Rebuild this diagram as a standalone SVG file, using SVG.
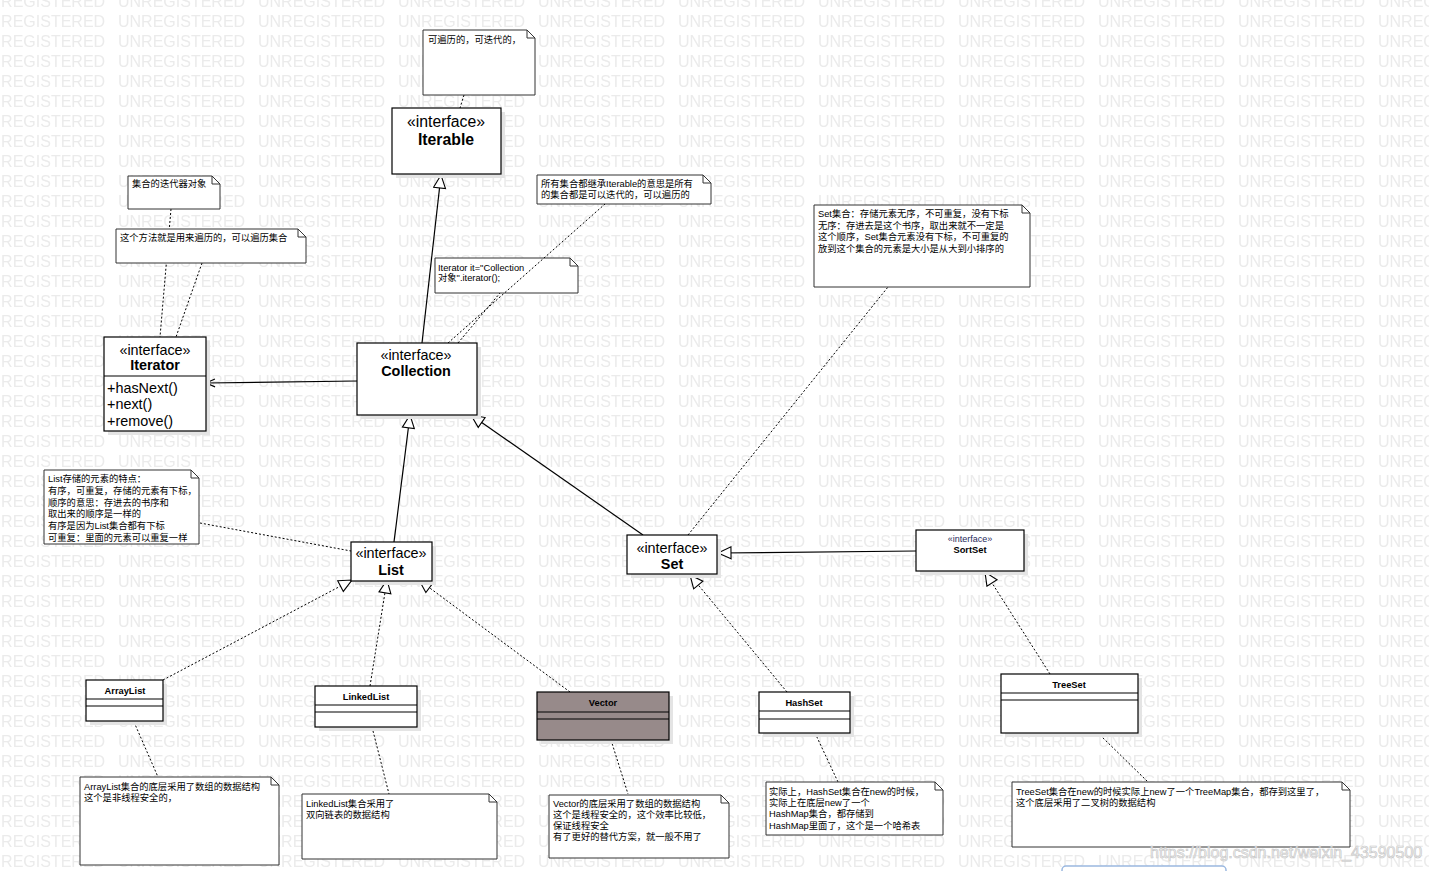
<svg xmlns="http://www.w3.org/2000/svg" width="1429" height="871" viewBox="0 0 1429 871">
<style>
.wm{font-family:"Liberation Sans",Arial,sans-serif;font-size:16px;fill:#ebebeb}
.box{fill:#fff;stroke:#000;stroke-width:1.2}
.shadow{fill:#e4e4e4}
.note{fill:#fff;stroke:#333;stroke-width:1}
.fold{fill:none;stroke:#333;stroke-width:1}
.nt{font-family:"Liberation Sans","Noto Sans CJK SC",sans-serif;font-size:9.3px;fill:#000}
.st{font-family:"Liberation Sans",Arial,sans-serif;font-size:14.4px;fill:#000;text-anchor:middle}
.nm{font-family:"Liberation Sans",Arial,sans-serif;font-size:14.4px;font-weight:bold;fill:#000;text-anchor:middle}
.mt{font-family:"Liberation Sans",Arial,sans-serif;font-size:14.4px;fill:#000}
.sn{font-family:"Liberation Sans",Arial,sans-serif;font-size:9.3px;font-weight:bold;fill:#000;text-anchor:middle}
.div{stroke:#000;stroke-width:1.2}
.solid{fill:none;stroke:#000;stroke-width:1.2}
.dash{fill:none;stroke:#000;stroke-width:1;stroke-dasharray:2,2}
</style>
<defs>
<pattern id="wmp" patternUnits="userSpaceOnUse" x="-22" y="-13" width="140" height="20">
<text class="wm" x="0" y="20">UNREGISTERED</text>
</pattern>
<marker id="tri" markerUnits="userSpaceOnUse" markerWidth="16" markerHeight="16" refX="14" refY="7" orient="auto">
<path d="M1,1 L14,7 L1,13 Z" fill="#fff" stroke="#000" stroke-width="1.1"/>
</marker>
<marker id="open" markerUnits="userSpaceOnUse" markerWidth="12" markerHeight="12" refX="10" refY="5" orient="auto">
<path d="M1,1 L10,5 L1,9" fill="none" stroke="#000" stroke-width="1.1"/>
</marker>
</defs>
<rect x="0" y="0" width="1429" height="871" fill="#fff"/>
<rect x="0" y="0" width="1429" height="871" fill="url(#wmp)"/>

<g id="connectors">
<line class="solid" x1="422" y1="343" x2="441" y2="175" marker-end="url(#tri)"/>
<line class="solid" x1="357" y1="381" x2="206" y2="383" marker-end="url(#open)"/>
<line class="solid" x1="394" y1="542" x2="410" y2="415" marker-end="url(#tri)"/>
<line class="solid" x1="643" y1="535" x2="471" y2="415" marker-end="url(#tri)"/>
<line class="solid" x1="916" y1="551" x2="718" y2="553" marker-end="url(#tri)"/>
<line class="dash" x1="1050" y1="674" x2="985" y2="572" marker-end="url(#tri)"/>
<line class="dash" x1="787" y1="692" x2="690" y2="575" marker-end="url(#tri)"/>
<line class="dash" x1="163" y1="680" x2="352" y2="580" marker-end="url(#tri)"/>
<line class="dash" x1="370" y1="686" x2="387" y2="580" marker-end="url(#tri)"/>
<line class="dash" x1="570" y1="692" x2="419" y2="580" marker-end="url(#tri)"/>
<line class="dash" x1="464" y1="95" x2="460" y2="108"/>
<line class="dash" x1="171" y1="209" x2="160" y2="337"/>
<line class="dash" x1="202" y1="263" x2="176" y2="337"/>
<line class="dash" x1="458" y1="343" x2="500" y2="293"/>
<line class="dash" x1="200" y1="523" x2="351" y2="551"/>
<line class="dash" x1="688" y1="535" x2="888" y2="287"/>
<line class="dash" x1="134" y1="722" x2="158" y2="777"/>
<line class="dash" x1="372" y1="727" x2="389" y2="794"/>
<line class="dash" x1="611" y1="740" x2="628" y2="794"/>
<line class="dash" x1="815" y1="733" x2="838" y2="782"/>
<line class="dash" x1="1100" y1="735" x2="1148" y2="782"/>
</g>

<g id="note-iterable">
<path class="note" d="M423,30 H527 L535,38 V95 H423 Z"/>
<path class="fold" d="M527,30 V38 H535"/>
<text class="nt" x="428" y="43">可遍历的，可迭代的，</text>
</g>

<g id="Iterable">
<rect class="shadow" x="396" y="112" width="109" height="66"/>
<rect class="box" x="392" y="108" width="109" height="66"/>
<text class="st" x="446" y="127" style="font-size:15.8px">«interface»</text>
<text class="nm" x="446" y="145" style="font-size:15.8px">Iterable</text>
</g>

<g id="note-all">
<path class="note" d="M537,175 H703 L711,183 V204 H537 Z"/>
<path class="fold" d="M703,175 V183 H711"/>
<text class="nt" x="541" y="187">所有集合都继承Iterable的意思是所有</text>
<text class="nt" x="541" y="198">的集合都是可以迭代的，可以遍历的</text>
</g>

<g id="note-iterobj">
<path class="note" d="M128,176 H212 L220,184 V209 H128 Z"/>
<path class="fold" d="M212,176 V184 H220"/>
<text class="nt" x="132" y="187">集合的迭代器对象</text>
</g>

<g id="note-method">
<path class="note" d="M116,229 H298 L306,237 V263 H116 Z"/>
<path class="fold" d="M298,229 V237 H306"/>
<text class="nt" x="120" y="241">这个方法就是用来遍历的，可以遍历集合</text>
</g>

<g id="note-iterator-it">
<path class="note" d="M435,258 H570 L578,266 V293 H435 Z"/>
<path class="fold" d="M570,258 V266 H578"/>
<text class="nt" x="438" y="271">Iterator it="Collection</text>
<text class="nt" x="438" y="281">对象".iterator();</text>
</g>
<line class="dash" x1="448" y1="343" x2="605" y2="204"/>

<g id="note-set">
<path class="note" d="M814,205 H1022 L1030,213 V287 H814 Z"/>
<path class="fold" d="M1022,205 V213 H1030"/>
<text class="nt" x="818" y="217">Set集合：存储元素无序，不可重复，没有下标</text>
<text class="nt" x="818" y="228.5">无序：存进去是这个书序，取出来就不一定是</text>
<text class="nt" x="818" y="240">这个顺序，Set集合元素没有下标，不可重复的</text>
<text class="nt" x="818" y="251.5">放到这个集合的元素是大小是从大到小排序的</text>
</g>

<g id="Iterator">
<rect class="shadow" x="108" y="341" width="102" height="94"/>
<rect class="box" x="104" y="337" width="102" height="94"/>
<line class="div" x1="104" y1="376" x2="206" y2="376"/>
<text class="st" x="155" y="355">«interface»</text>
<text class="nm" x="155" y="370">Iterator</text>
<text class="mt" x="107" y="393">+hasNext()</text>
<text class="mt" x="107" y="409">+next()</text>
<text class="mt" x="107" y="426">+remove()</text>
</g>

<g id="Collection">
<rect class="shadow" x="361" y="347" width="120" height="72"/>
<rect class="box" x="357" y="343" width="120" height="72"/>
<text class="st" x="416" y="360">«interface»</text>
<text class="nm" x="416" y="376">Collection</text>
</g>

<g id="note-list">
<path class="note" d="M44,470 H191 L199,478 V544 H44 Z"/>
<path class="fold" d="M191,470 V478 H199"/>
<text class="nt" x="48" y="482">List存储的元素的特点：</text>
<text class="nt" x="48" y="494">有序，可重复，存储的元素有下标，</text>
<text class="nt" x="48" y="505.5">顺序的意思：存进去的书序和</text>
<text class="nt" x="48" y="517">取出来的顺序是一样的</text>
<text class="nt" x="48" y="529">有序是因为List集合都有下标</text>
<text class="nt" x="48" y="540.5">可重复：里面的元素可以重复一样</text>
</g>

<g id="List">
<rect class="shadow" x="355" y="546" width="81" height="39"/>
<rect class="box" x="351" y="542" width="81" height="39"/>
<text class="st" x="391" y="558">«interface»</text>
<text class="nm" x="391" y="575">List</text>
</g>

<g id="Set">
<rect class="shadow" x="631" y="539" width="90" height="39"/>
<rect class="box" x="627" y="535" width="90" height="39"/>
<text class="st" x="672" y="553">«interface»</text>
<text class="nm" x="672" y="569">Set</text>
</g>

<g id="SortSet">
<rect class="shadow" x="920" y="534" width="108" height="41"/>
<rect class="box" x="916" y="530" width="108" height="41"/>
<text class="st" x="970" y="542" style="font-size:9px;fill:#1f2a5a">«interface»</text>
<text class="sn" x="970" y="553">SortSet</text>
</g>

<g id="ArrayList">
<rect class="shadow" x="90" y="684" width="77" height="41"/>
<rect class="box" x="86" y="680" width="77" height="41"/>
<line class="div" x1="86" y1="699" x2="163" y2="699"/>
<line class="div" x1="86" y1="706" x2="163" y2="706"/>
<text class="sn" x="125" y="694">ArrayList</text>
</g>

<g id="LinkedList">
<rect class="shadow" x="319" y="690" width="102" height="41"/>
<rect class="box" x="315" y="686" width="102" height="41"/>
<line class="div" x1="315" y1="705" x2="417" y2="705"/>
<line class="div" x1="315" y1="712" x2="417" y2="712"/>
<text class="sn" x="366" y="700">LinkedList</text>
</g>

<g id="Vector">
<rect class="shadow" x="541" y="696" width="132" height="48"/>
<rect class="box" x="537" y="692" width="132" height="48" style="fill:#978a8a"/>
<line class="div" x1="537" y1="712" x2="669" y2="712"/>
<line class="div" x1="537" y1="719" x2="669" y2="719"/>
<text class="sn" x="603" y="706">Vector</text>
</g>

<g id="HashSet">
<rect class="shadow" x="763" y="696" width="91" height="41"/>
<rect class="box" x="759" y="692" width="91" height="41"/>
<line class="div" x1="759" y1="711" x2="850" y2="711"/>
<line class="div" x1="759" y1="719" x2="850" y2="719"/>
<text class="sn" x="804" y="706">HashSet</text>
</g>

<g id="TreeSet">
<rect class="shadow" x="1005" y="678" width="137" height="59"/>
<rect class="box" x="1001" y="674" width="137" height="59"/>
<line class="div" x1="1001" y1="693" x2="1138" y2="693"/>
<line class="div" x1="1001" y1="700" x2="1138" y2="700"/>
<text class="sn" x="1069" y="688">TreeSet</text>
</g>

<g id="note-arraylist">
<path class="note" d="M80,777 H271 L279,785 V865 H80 Z"/>
<path class="fold" d="M271,777 V785 H279"/>
<text class="nt" x="84" y="790">ArrayList集合的底层采用了数组的数据结构</text>
<text class="nt" x="84" y="801">这个是非线程安全的，</text>
</g>

<g id="note-linkedlist">
<path class="note" d="M302,794 H489 L497,802 V859 H302 Z"/>
<path class="fold" d="M489,794 V802 H497"/>
<text class="nt" x="306" y="807">LinkedList集合采用了</text>
<text class="nt" x="306" y="818">双向链表的数据结构</text>
</g>

<g id="note-vector">
<path class="note" d="M549,795 H721 L729,803 V858 H549 Z"/>
<path class="fold" d="M721,795 V803 H729"/>
<text class="nt" x="553" y="807">Vector的底层采用了数组的数据结构</text>
<text class="nt" x="553" y="818">这个是线程安全的，这个效率比较低，</text>
<text class="nt" x="553" y="829">保证线程安全</text>
<text class="nt" x="553" y="840">有了更好的替代方案，就一般不用了</text>
</g>

<g id="note-hashset">
<path class="note" d="M766,782 H935 L943,790 V835 H766 Z"/>
<path class="fold" d="M935,782 V790 H943"/>
<text class="nt" x="769" y="795">实际上，HashSet集合在new的时候，</text>
<text class="nt" x="769" y="806">实际上在底层new了一个</text>
<text class="nt" x="769" y="817">HashMap集合，都存储到</text>
<text class="nt" x="769" y="828.5">HashMap里面了，这个是一个哈希表</text>
</g>

<g id="note-treeset">
<path class="note" d="M1012,782 H1342 L1350,790 V847 H1012 Z"/>
<path class="fold" d="M1342,782 V790 H1350"/>
<text class="nt" x="1016" y="795">TreeSet集合在new的时候实际上new了一个TreeMap集合，都存到这里了，</text>
<text class="nt" x="1016" y="806">这个底层采用了二叉树的数据结构</text>
</g>

<rect x="1062" y="866" width="164" height="12" rx="4" fill="#fff" stroke="#9ab8e0" stroke-width="1.5"/>
<text x="1150" y="858" style="font-family:'Liberation Sans',Arial,sans-serif;font-size:16px;fill:#f4f4f4;stroke:#c4c4c4;stroke-width:0.6">https://blog.csdn.net/weixin_43590500</text>
</svg>
